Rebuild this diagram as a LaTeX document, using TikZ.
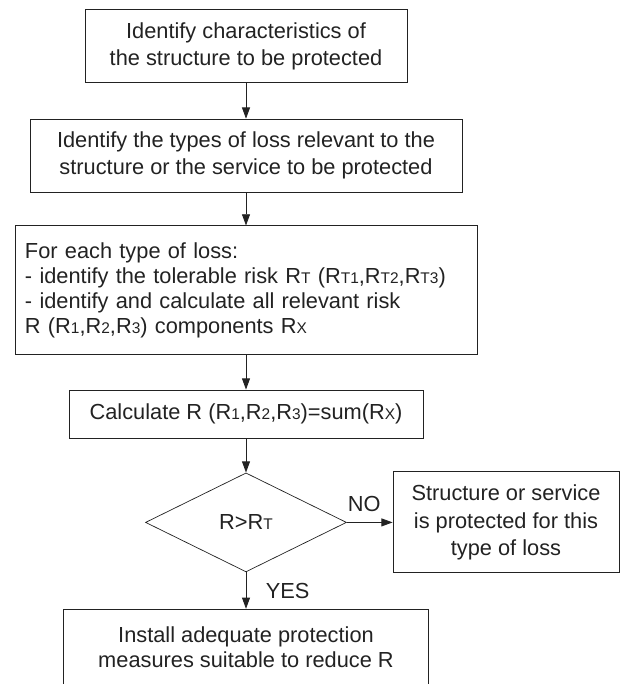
\documentclass[tikz,border=0pt]{standalone}
\usepackage{fontspec}
\setmainfont{Liberation Sans}
\usetikzlibrary{positioning,arrows.meta,shapes.geometric}
\definecolor{lineblk}{HTML}{222222}
\newcommand{\lo}[1]{{\fontsize{11}{11}\selectfont #1}}

\begin{document}
\begin{tikzpicture}[
      box/.style={rectangle, draw=lineblk, line width=0.6pt,
        align=center, text=lineblk, inner sep=0pt,
        font=\fontsize{15.5}{19.5}\selectfont},
      decide/.style={diamond, draw=lineblk, line width=0.5pt, inner sep=0pt,
        text=lineblk, font=\fontsize{15.5}{19.5}\selectfont},
      lbl/.style={text=lineblk, font=\fontsize{15.5}{17}\selectfont, inner sep=1pt},
      arr/.style={-{Triangle[length=0.28cm,width=0.2cm]}, line width=0.6pt, color=lineblk}
    ]
      \useasboundingbox (0,0) rectangle (15.55,-17.1);
      \node[box, minimum width=8.05cm, minimum height=1.825cm] (chars) at (6.15,-1.16)
        {Identify characteristics of\\the structure to be protected};
      \node[box, minimum width=10.8cm, minimum height=1.825cm] (loss) at (6.15,-3.89)
        {Identify the types of loss relevant to the\\structure or the service to be protected};
      \node[box, align=left, text width=11.05cm, inner xsep=0.25cm, minimum height=3.225cm,
        font=\fontsize{15.5}{18}\selectfont] (each) at (6.15,-7.26)
        {For each type of loss:\\
         - identify the tolerable risk R\lo{T} (R\lo{T1},R\lo{T2},R\lo{T3})\\
         - identify and calculate all relevant risk\\
         R (R\lo{1},R\lo{2},R\lo{3}) components R\lo{X}};
      \node[box, minimum width=8.85cm, minimum height=1.2cm] (calc) at (6.15,-10.35)
        {Calculate R (R\lo{1},R\lo{2},R\lo{3})=sum(R\lo{X})};
      \node[decide, minimum width=5.025cm, minimum height=2.475cm] (test) at (6.15,-13.06) {R>R\lo{T}};
      \node[box, minimum width=5.65cm, minimum height=2.525cm] (safe) at (12.65,-13.06)
        {Structure or service\\is protected for this\\type of loss};
      \node[box, minimum width=9.125cm, minimum height=1.9cm,
        font=\fontsize{15.5}{18}\selectfont] (install) at (6.15,-16.18)
        {Install adequate protection\\measures suitable to reduce R};
      \draw[arr] (chars)--(loss); \draw[arr] (loss)--(each); \draw[arr] (each)--(calc);
      \draw[arr] (calc)--(test);
      \draw[arr] (test)--(safe) node[lbl, pos=0.38, above=0.22cm] {NO};
      \draw[arr] (test)--(install) node[lbl, midway, right=0.45cm] {YES};
    \end{tikzpicture}
\end{document}
